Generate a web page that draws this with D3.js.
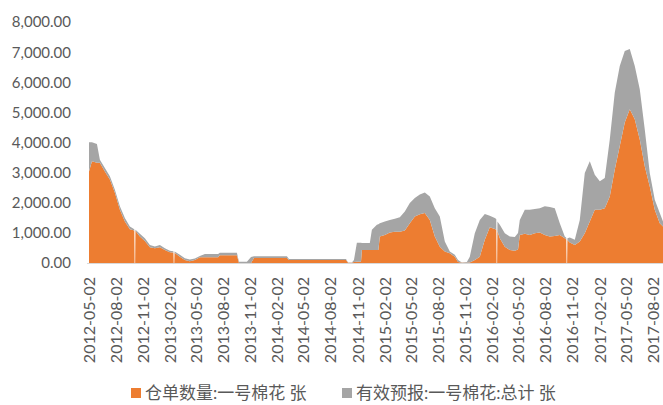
<!DOCTYPE html>
<html>
<head>
<meta charset="utf-8">
<script src="https://cdn.jsdelivr.net/npm/d3@7"></script>
<style>
  body { margin: 0; background: #fff; }
  text { font-family: Lato, "Noto Sans CJK SC", sans-serif; fill: #595959; }
</style>
</head>
<body>
<div id="chart"></div>
<script>
// dates of the readings (white gaps in the picture are days with no data -> 0)
var dates = [
  "2012-05-02","2012-05-12","2012-05-29","2012-06-08","2012-06-25","2012-07-12","2012-07-29","2012-08-15",
  "2012-09-01","2012-09-18","2012-10-03","2012-10-04","2012-10-05","2012-10-06","2012-10-07","2012-10-22",
  "2012-11-08","2012-11-25","2012-12-12","2012-12-29","2013-01-15","2013-02-01","2013-02-13","2013-02-14",
  "2013-02-15","2013-02-16","2013-02-17","2013-03-07","2013-03-24","2013-04-10","2013-04-27","2013-05-14",
  "2013-05-31","2013-07-15","2013-07-21","2013-09-17","2013-09-24","2013-10-21","2013-11-04","2013-11-14",
  "2014-03-06","2014-03-13","2014-09-23","2014-09-30","2014-10-13","2014-10-20","2014-10-30","2014-11-13",
  "2014-11-16","2014-12-13","2014-12-20","2015-01-06","2015-01-11","2015-01-16","2015-02-02","2015-02-19",
  "2015-03-08","2015-03-25","2015-04-11","2015-04-28","2015-05-15","2015-06-01","2015-06-18","2015-07-05",
  "2015-07-22","2015-08-08","2015-08-25","2015-09-11","2015-09-28","2015-10-09","2015-10-22","2015-11-08",
  "2015-11-18","2015-12-05","2015-12-22","2016-01-08","2016-01-25","2016-02-11","2016-02-16","2016-02-17",
  "2016-02-18","2016-02-19","2016-02-20","2016-02-28","2016-03-16","2016-04-02","2016-04-19","2016-04-30",
  "2016-05-06","2016-05-23","2016-06-09","2016-06-26","2016-07-13","2016-07-30","2016-08-16","2016-09-02",
  "2016-09-19","2016-10-06","2016-10-11","2016-10-12","2016-10-13","2016-10-14","2016-10-15","2016-10-23",
  "2016-11-09","2016-11-26","2016-12-13","2016-12-30","2017-01-16","2017-02-02","2017-02-19","2017-03-08",
  "2017-03-25","2017-04-11","2017-04-28","2017-05-15","2017-06-01","2017-06-18","2017-07-05","2017-07-22",
  "2017-08-08","2017-08-25","2017-09-05"
];
// 仓单数量 (orange)
var receipts = [
  3040,3380,3330,3330,3040,2770,2330,1770,
  1380,1120,1080,0,0,0,1070,880,
  730,520,490,520,430,360,350,0,
  0,0,340,210,100,60,100,190,
  190,190,260,260,0,0,0,170,
  170,100,100,10,10,30,40,40,
  430,430,430,430,430,880,930,1010,
  1040,1040,1080,1320,1540,1620,1660,1430,
  880,540,380,320,210,30,10,10,
  20,100,210,770,1190,1130,1100,0,
  0,0,1050,820,540,430,410,450,
  930,970,930,990,1010,930,880,900,
  930,820,780,0,0,0,760,680,
  600,710,990,1380,1770,1770,1820,2210,
  3100,3880,4660,5100,4770,4100,3210,2540,
  1770,1320,1210
];
// 有效预报 (grey, stacked on top)
var forecasts = [
  970,630,620,100,110,110,100,110,
  110,90,40,0,0,0,30,90,
  90,80,55,80,60,50,40,0,
  0,0,40,60,60,60,50,40,
  110,110,80,80,40,40,200,50,
  50,35,35,10,10,70,630,630,
  230,230,670,840,860,440,450,420,
  430,480,630,670,620,650,680,780,
  940,1000,330,60,60,70,10,20,
  190,890,1220,860,380,360,360,0,
  0,0,330,450,450,450,450,550,
  500,800,840,800,810,950,980,920,
  390,60,60,0,0,0,60,170,
  170,720,2000,2000,1160,940,1000,1890,
  2560,2660,2380,2000,1770,1670,1220,450,
  330,340,170
];
var yTicks = [0,1000,2000,3000,4000,5000,6000,7000,8000];
var xTicks = ["2012-05-02","2012-08-02","2012-11-02","2013-02-02","2013-05-02","2013-08-02","2013-11-02",
  "2014-02-02","2014-05-02","2014-08-02","2014-11-02","2015-02-02","2015-05-02","2015-08-02","2015-11-02",
  "2016-02-02","2016-05-02","2016-08-02","2016-11-02","2017-02-02","2017-05-02","2017-08-02"];
var seriesNames = ["仓单数量:一号棉花 张", "有效预报:一号棉花:总计 张"];
var colors = ["#ED7D31", "#A5A5A5"];

var width = 663, height = 405;
var parse = d3.timeParse("%Y-%m-%d");

var svg = d3.select("#chart").append("svg")
    .attr("width", width)
    .attr("height", height);

var x = d3.scaleTime()
    .domain([parse("2012-05-02"), parse("2017-09-05")])
    .range([89, 663]);
var y = d3.scaleLinear()
    .domain([0, 8000])
    .range([263, 22]);

var table = dates.map(function(d, i) {
    return {date: parse(d), receipts: receipts[i], forecasts: forecasts[i]};
});
var stacked = d3.stack().keys(["receipts", "forecasts"])(table);

var area = d3.area()
    .x(function(d) { return x(d.data.date); })
    .y0(function(d) { return y(d[0]); })
    .y1(function(d) { return y(d[1]); });

svg.append("g").selectAll("path")
    .data(stacked)
    .enter().append("path")
    .attr("d", area)
    .attr("fill", function(d, i) { return colors[i]; });

// baseline
svg.append("line")
    .attr("x1", 87).attr("x2", 663)
    .attr("y1", y(0) + 0.5).attr("y2", y(0) + 0.5)
    .style("stroke", "#D9D9D9")
    .style("stroke-width", 1);

// y labels
var fmt = d3.format(",.2f");
svg.append("g").selectAll("text")
    .data(yTicks)
    .enter().append("text")
    .attr("x", 71)
    .attr("y", function(d) { return y(d); })
    .attr("dy", "0.36em")
    .attr("text-anchor", "end")
    .style("font-size", "15px")
    .text(function(d) { return fmt(d); });

// x labels, rotated
svg.append("g").selectAll("text")
    .data(xTicks)
    .enter().append("text")
    .attr("transform", function(d) { return "translate(" + x(parse(d)) + ",277)rotate(-90)"; })
    .attr("dy", "0.36em")
    .attr("text-anchor", "end")
    .style("font-size", "16px")
    .text(function(d) { return d; });

// legend
var legX = [131, 342];
seriesNames.forEach(function(name, i) {
    svg.append("rect")
        .attr("x", legX[i]).attr("y", 388)
        .attr("width", 10).attr("height", 10)
        .attr("fill", colors[i]);
    svg.append("text")
        .attr("x", legX[i] + 14).attr("y", 393)
        .attr("dy", "0.36em")
        .style("font-size", "17px")
        .text(name);
});
</script>
</body>
</html>
